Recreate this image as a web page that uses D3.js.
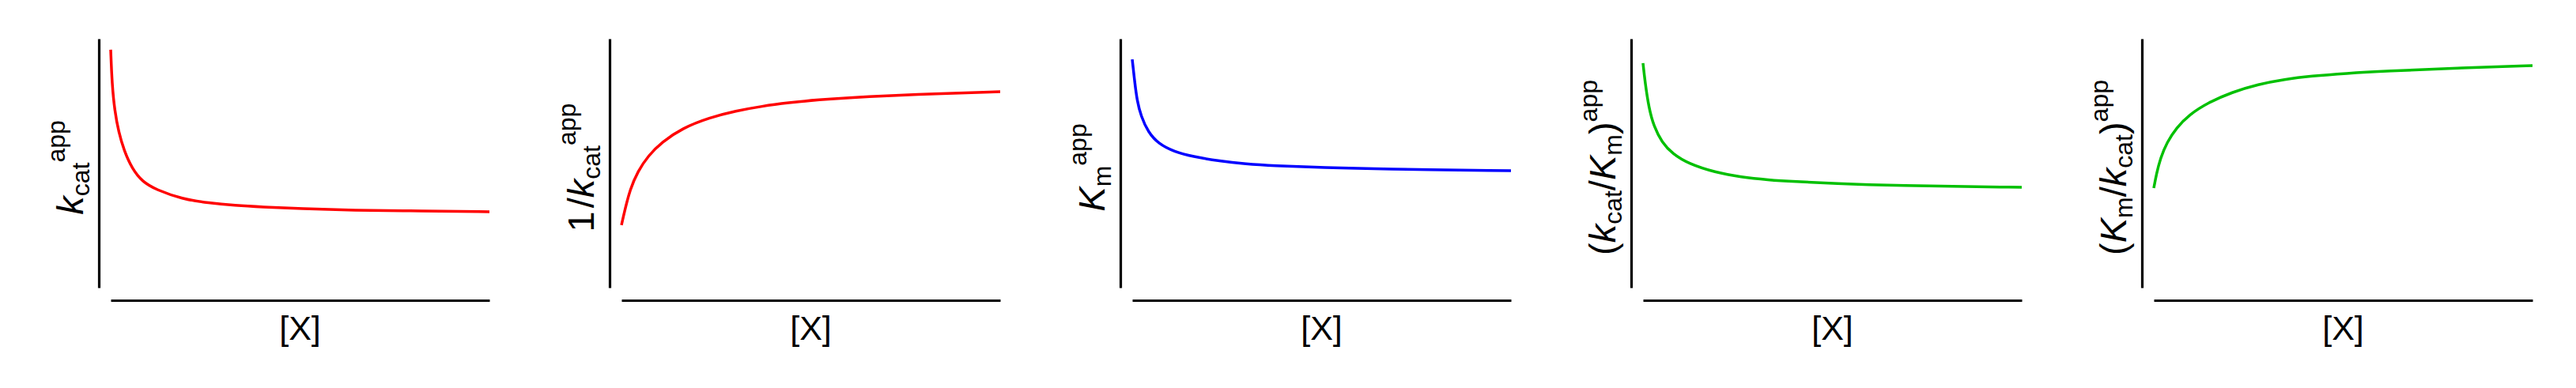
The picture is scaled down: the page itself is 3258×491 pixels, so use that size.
<!DOCTYPE html>
<html>
<head>
<meta charset="utf-8">
<script src="https://cdn.jsdelivr.net/npm/d3@7"></script>
<style>
  body { margin: 0; background: #fff; }
  text { font-family: "Liberation Sans", Arial, sans-serif; }
</style>
</head>
<body>
<div id="canvas-svg"></div>
<script>

// values: x is [X] (0..100), y in arbitrary units (0..100)
var kcat       = [[0,95.6],[0.36,81.7],[1.05,71.1],[2.1,62.5],[3.5,55.2],[5.6,47.9],[8.39,42.5],[11.9,39.4],[18.9,35.6],[25.8,34.0],[32.9,33.0],[39.8,32.4],[50.3,31.7],[63.7,31.1],[82.4,30.8],[100,30.5]];
var invKcat    = [[0,25.1],[0.84,30.8],[2.24,39.4],[4.34,46.8],[7.13,53.1],[10.6,58.4],[16.1,64.1],[23.2,68.3],[30.2,71.0],[37.1,72.9],[44.2,74.3],[51.2,75.4],[64.6,76.8],[83.2,77.9],[100,78.7]];
var km         = [[0,91.7],[0.63,82.9],[1.26,75.2],[2.31,68.9],[4.19,62.5],[6.92,57.8],[11.1,54.6],[15.9,52.7],[23.1,50.8],[30.0,49.7],[36.9,49.0],[50.9,48.2],[65.4,47.6],[100,47.0]];
var kcatOverKm = [[0,90.2],[0.51,82.9],[1.55,72.1],[2.87,64.8],[4.97,58.4],[7.84,53.7],[12.0,49.8],[19.0,46.3],[25.9,44.4],[33.0,43.3],[40.0,42.6],[50.5,41.8],[66.2,41.0],[100,40.3]];
var kmOverKcat = [[0,40.0],[0.71,45.7],[1.76,52.1],[3.5,58.4],[5.95,64.2],[9.37,69.5],[14.3,74.3],[20.6,78.5],[27.6,81.7],[34.5,83.7],[41.6,85.0],[50.7,86.1],[61.2,87.0],[80,88.2],[100,89.2]];

var series  = [kcat, invKcat, km, kcatOverKm, kmOverKcat];
var colours = ["#ff0000", "#ff0000", "#0000ff", "#00c000", "#00c000"];

// label pieces: [text, kind, extra gap]  kind: n = normal, i = italic, sub, sup
var labels = [
  [["k","i"],["cat","sub"],["app","sup"]],
  [["1","n"],["/","n",4],["k","i"],["cat","sub"],["app","sup"]],
  [["K","i"],["m","sub"],["app","sup"]],
  [["(","n"],["k","i"],["cat","sub"],["/","n"],["K","i"],["m","sub"],[")","n"],["app","sup"]],
  [["(","n"],["K","i"],["m","sub"],["/","n"],["k","i"],["cat","sub"],[")","n"],["app","sup"]]
];
var xLabel = "[X]";

var W = 3258, H = 491, step = 646;

var svg = d3.select("#canvas-svg").append("svg")
    .attr("width", W)
    .attr("height", H)
    .style("display", "block");

svg.append("rect").attr("width", W).attr("height", H).style("fill", "#fff");

var x = d3.scaleLinear().domain([0, 100]).range([140, 619]);
var y = d3.scaleLinear().domain([0, 100]).range([364, 49]);

var line = d3.line()
    .x(function(d) { return x(d[0]); })
    .y(function(d) { return y(d[1]); })
    .curve(d3.curveBasis);

series.forEach(function(data, i) {
  var g = svg.append("g").attr("transform", "translate(" + (i * step) + ",0)");

  g.append("g")
    .attr("transform", "translate(125,0)")
    .call(d3.axisLeft(y).ticks(0).tickSizeOuter(0));
  g.append("g")
    .attr("transform", "translate(0,380)")
    .call(d3.axisBottom(x).ticks(0).tickSizeOuter(0));
  g.selectAll(".domain").style("stroke", "#000").style("stroke-width", 3.2);

  g.append("path")
    .datum(data)
    .attr("d", line)
    .style("fill", "none")
    .style("stroke", colours[i])
    .style("stroke-width", 3.5);

  g.append("text")
    .attr("x", (x.range()[0] + x.range()[1]) / 2)
    .attr("y", 430)
    .attr("text-anchor", "middle")
    .style("font-size", "43px")
    .text(xLabel);

  // y label, rotated
  var t = g.append("text")
    .attr("transform", "translate(105,212) rotate(-90)")
    .attr("text-anchor", "middle")
    .style("font-size", "47px");

  var shift = 0;
  labels[i].forEach(function(p) {
    var target = p[1] == "sub" ? 8 : (p[1] == "sup" ? -23 : 0);
    var ts = t.append("tspan")
      .attr("dy", target - shift)
      .text(p[0]);
    if (p[2]) ts.attr("dx", p[2]);
    if (p[1] == "i") ts.style("font-style", "italic");
    if (p[1] == "sub" || p[1] == "sup") ts.style("font-size", "32px");
    shift = target;
  });
});

</script>
</body>
</html>
